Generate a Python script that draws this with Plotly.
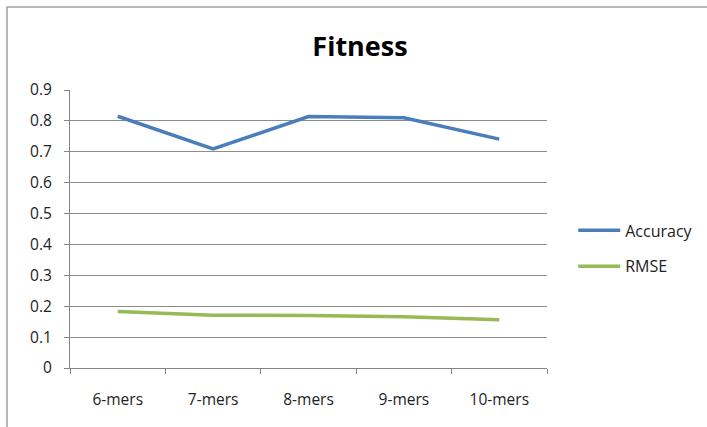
import plotly.graph_objects as go

# Fitness scores per k-mer length
categories = ["6-mers", "7-mers", "8-mers", "9-mers", "10-mers"]
accuracy = [0.815, 0.709, 0.814, 0.810, 0.741]
rmse = [0.183, 0.171, 0.170, 0.166, 0.156]

font_family = "Open Sans, Noto Sans, sans-serif"

fig = go.Figure()
fig.add_trace(go.Scatter(
    x=categories, y=accuracy, name="Accuracy", mode="lines",
    line=dict(color="#4A7EBB", width=3.5), legendgroup="a",
))
fig.add_trace(go.Scatter(
    x=categories, y=rmse, name="RMSE", mode="lines",
    line=dict(color="#98B954", width=3.5), legendgroup="b",
))

fig.update_layout(
    width=707, height=427,
    margin=dict(l=70, r=160, t=90, b=59, autoexpand=False),
    paper_bgcolor="white", plot_bgcolor="white",
    font=dict(family=font_family, size=15, color="#222222"),
    title=dict(
        text="<b>Fitness</b>", x=360 / 707, xanchor="center",
        y=1 - 47 / 427, yanchor="middle",
        font=dict(family=font_family, size=27, color="#000000"),
    ),
    showlegend=True,
    legend=dict(
        x=1.055, xanchor="left", y=0.43, yanchor="middle",
        traceorder="grouped", tracegroupgap=12, itemwidth=42,
        font=dict(family=font_family, size=16, color="#222222"),
        bgcolor="rgba(0,0,0,0)",
    ),
    xaxis=dict(
        type="category", range=[-0.5, 4.5],
        showgrid=False, showline=True, linecolor="#868686", linewidth=1,
        ticks="outside", tickson="boundaries", ticklen=5, tickcolor="#868686",
        ticklabelstandoff=17, tickfont=dict(size=15.5), fixedrange=True,
    ),
    yaxis=dict(
        range=[0, 0.9], dtick=0.1, tick0=0,
        showgrid=True, gridcolor="#8c8c8c", gridwidth=1,
        showline=True, linecolor="#868686", linewidth=1,
        ticks="outside", ticklen=5, tickcolor="#868686",
        ticklabelstandoff=9,
        zeroline=False, tickfont=dict(size=15.5), fixedrange=True,
    ),
    shapes=[dict(
        type="rect", xref="paper", yref="paper",
        x0=(7 - 70) / 477, x1=2.0, y0=-1.0, y1=(368 - 7) / 278,
        line=dict(color="#a0a0a0", width=1.5), layer="below",
    )],
)

fig.write_html("out.html")
